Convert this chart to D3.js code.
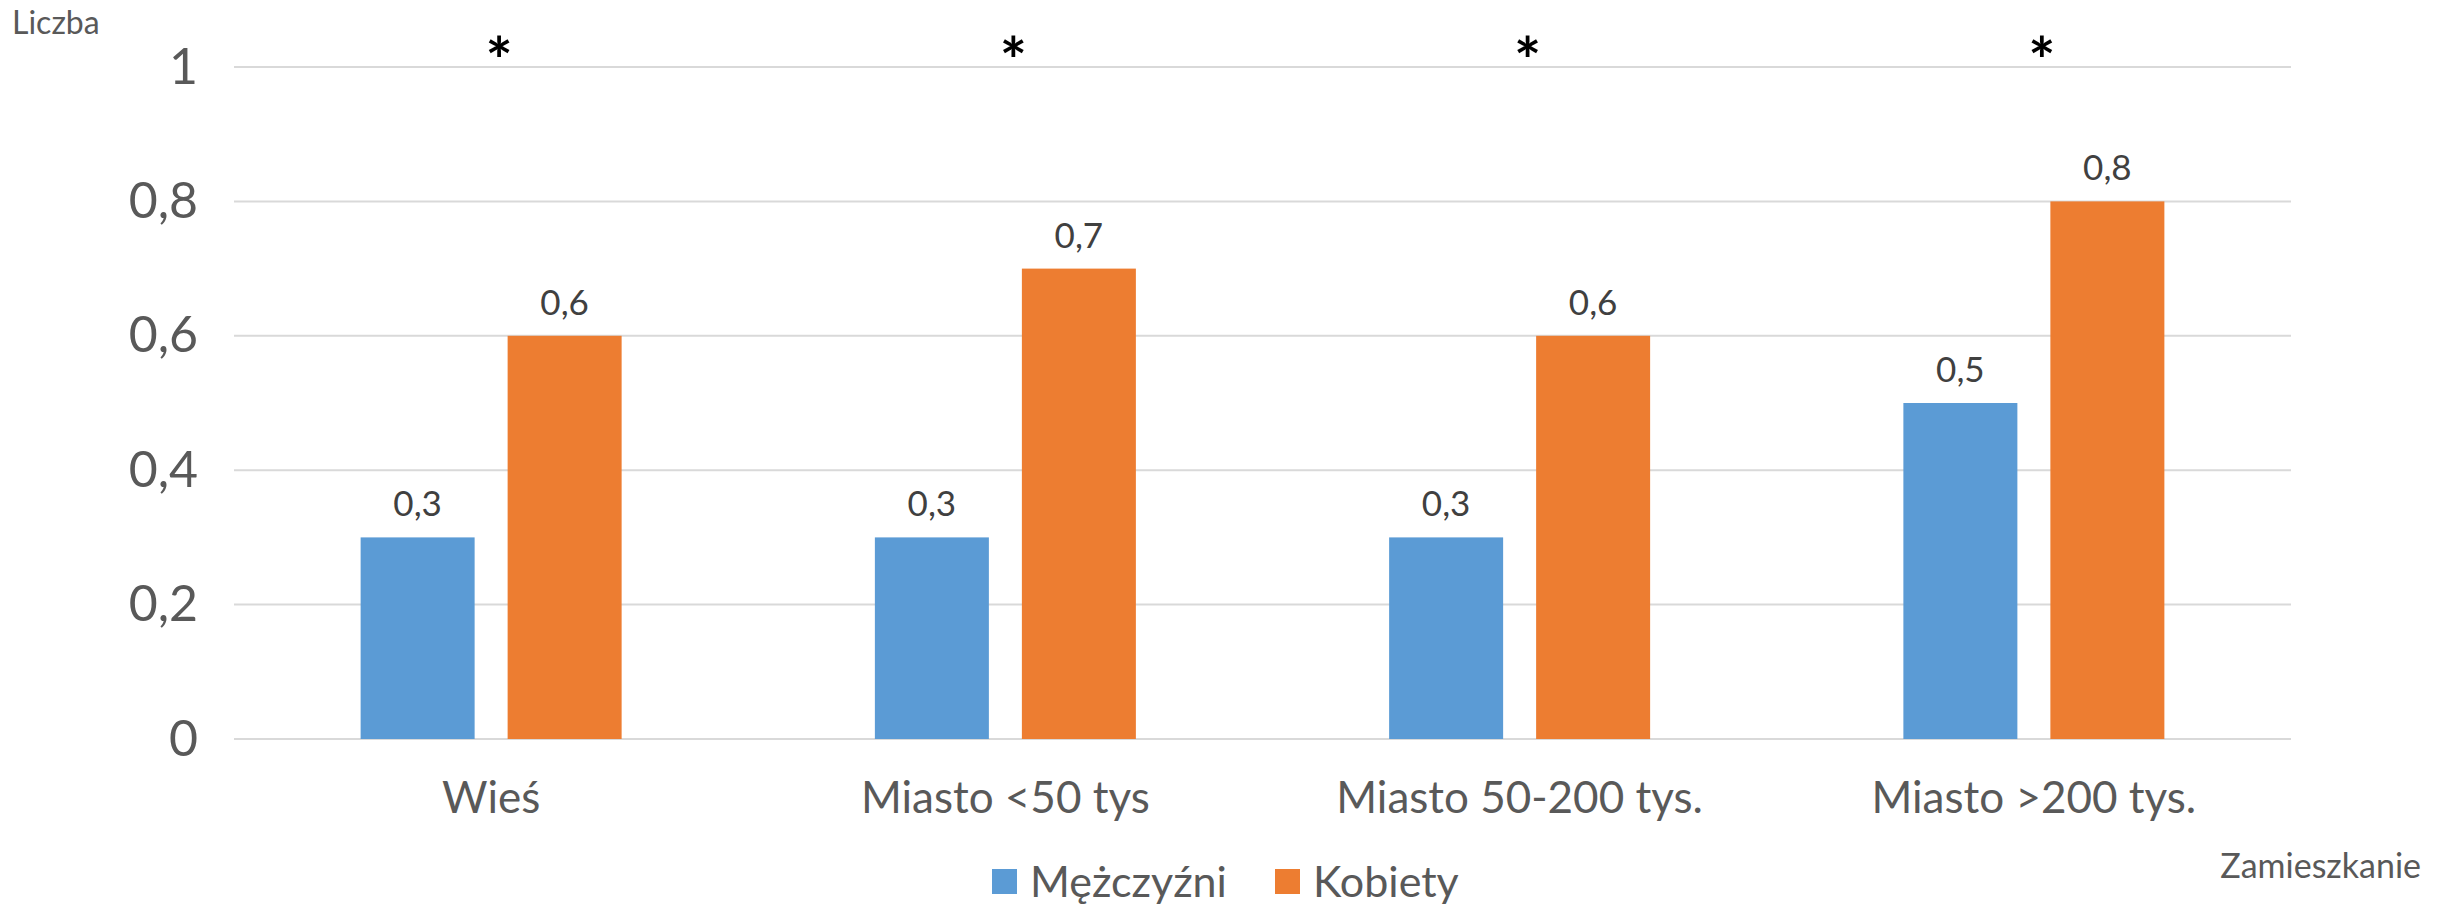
<!DOCTYPE html>
<html>
<head>
<meta charset="utf-8">
<script src="https://cdn.jsdelivr.net/npm/d3@7"></script>
<style>
  html, body { margin: 0; padding: 0; background: #ffffff; }
  svg { display: block; }
  text { font-family: Lato, "Open Sans", sans-serif; }
</style>
</head>
<body>
<svg id="chart" width="2446" height="907"></svg>
<script>
// Categories, series and values
const categories = ["Wieś", "Miasto <50 tys", "Miasto 50-200 tys.", "Miasto >200 tys."];
const seriesNames = ["Mężczyźni", "Kobiety"];
const men = [0.3, 0.3, 0.3, 0.5];
const women = [0.6, 0.7, 0.6, 0.8];
const yTicks = [0, 0.2, 0.4, 0.6, 0.8, 1];
const significance = ["*", "*", "*", "*"];
const colors = ["#5b9bd5", "#ed7d31"];

const values = [men, women];
const rows = categories.map((c, i) => ({ cat: c, vals: seriesNames.map((s, j) => ({ s, v: values[j][i] })) }));

const svg = d3.select("#chart");
const m = { left: 234, right: 2291, top: 67, bottom: 739 };

const fmt = v => d3.format(".1f")(v).replace(".", ",");
const fmtTick = v => (v === 0 || v === 1) ? String(v) : fmt(v);

const x0 = d3.scaleBand().domain(categories).range([m.left, m.right]).padding(0);
const y = d3.scaleLinear().domain([0, 1]).range([m.bottom, m.top]);

// Two bars centred within each category band
const groupW = 261;
const x1 = d3.scaleBand().domain(seriesNames).range([-groupW / 2, groupW / 2]).paddingInner(0.2245).paddingOuter(0);

// Horizontal gridlines
svg.append("g")
  .selectAll("line")
  .data(yTicks)
  .join("line")
  .attr("x1", m.left).attr("x2", m.right)
  .attr("y1", d => y(d)).attr("y2", d => y(d))
  .attr("stroke", "#d9d9d9").attr("stroke-width", 2);

// Y axis labels
const yAxis = d3.axisLeft(y).tickValues(yTicks).tickFormat(fmtTick).tickSize(0).tickPadding(0);
const ya = svg.append("g").attr("transform", "translate(198,0)").call(yAxis);
ya.select(".domain").remove();
ya.selectAll("text")
  .attr("font-size", 50)
  .attr("fill", "#595959")
  .attr("font-family", "Lato, sans-serif");

// Bars
const groups = svg.append("g")
  .selectAll("g")
  .data(rows)
  .join("g")
  .attr("transform", d => `translate(${x0(d.cat) + x0.bandwidth() / 2},0)`);

groups.selectAll("rect")
  .data(d => d.vals)
  .join("rect")
  .attr("x", d => x1(d.s))
  .attr("width", x1.bandwidth())
  .attr("y", d => y(d.v))
  .attr("height", d => y(0) - y(d.v))
  .attr("fill", (d, i) => colors[i]);

// Value labels
groups.selectAll("text.val")
  .data(d => d.vals)
  .join("text")
  .attr("class", "val")
  .attr("x", d => x1(d.s) + x1.bandwidth() / 2)
  .attr("y", d => y(d.v) - 21)
  .attr("text-anchor", "middle")
  .attr("font-size", 35)
  .attr("fill", "#404040")
  .text(d => fmt(d.v));

// Significance markers
groups.append("text")
  .attr("x", 8)
  .attr("y", 84)
  .attr("text-anchor", "middle")
  .attr("font-family", "'DejaVu Sans', sans-serif")
  .attr("font-size", 64)
  .attr("font-weight", "bold")
  .attr("fill", "#000000")
  .text((d, i) => significance[i]);

// Category labels
const xAxis = d3.axisBottom(x0).tickSize(0).tickPadding(0);
const xa = svg.append("g").attr("transform", "translate(0,782)").call(xAxis);
xa.select(".domain").remove();
xa.selectAll("text")
  .attr("font-size", 44)
  .attr("fill", "#595959")
  .attr("font-family", "Lato, sans-serif");

// Axis titles
svg.append("text")
  .attr("x", 12).attr("y", 34)
  .attr("font-size", 32).attr("fill", "#595959")
  .text("Liczba");

svg.append("text")
  .attr("x", 2421).attr("y", 878)
  .attr("text-anchor", "end")
  .attr("font-size", 34).attr("fill", "#595959")
  .text("Zamieszkanie");

// Legend
const legendItems = [{ name: seriesNames[0], x: 992 }, { name: seriesNames[1], x: 1275 }];
const lg = svg.append("g")
  .selectAll("g")
  .data(legendItems)
  .join("g")
  .attr("transform", d => `translate(${d.x},869)`);
lg.append("rect").attr("width", 25).attr("height", 25).attr("fill", (d, i) => colors[i]);
lg.append("text")
  .attr("x", 38).attr("y", 28)
  .attr("font-size", 43).attr("fill", "#595959")
  .text(d => d.name);
</script>
</body>
</html>
